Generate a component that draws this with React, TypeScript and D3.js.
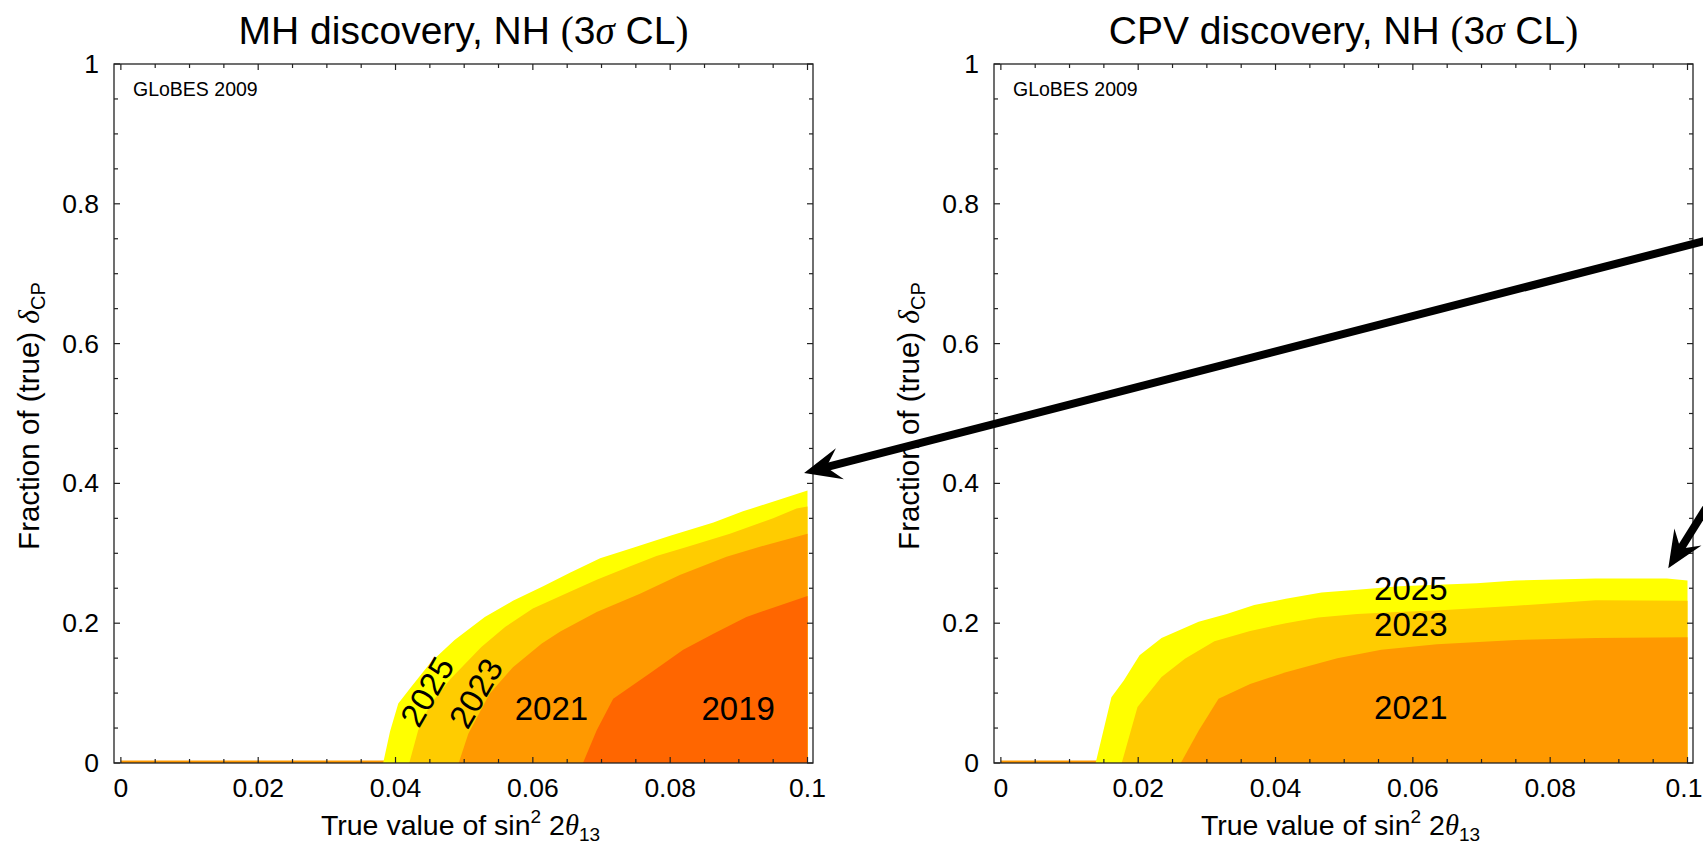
import React from "react";
import * as d3 from "d3";

// tick values and labels (same for both panels)
const xTickValues = [0, 0.02, 0.04, 0.06, 0.08, 0.1];
const xTickLabels = ["0", "0.02", "0.04", "0.06", "0.08", "0.1"];
const yTickValues = [0, 0.2, 0.4, 0.6, 0.8, 1];
const yTickLabels = ["0", "0.2", "0.4", "0.6", "0.8", "1"];
const xMinor = d3.range(0, 0.1001, 0.005);
const yMinor = d3.range(0, 1.0001, 0.05);

const years = ["2025", "2023", "2021", "2019"];
const colors = ["#FFFF00", "#FFCC00", "#FF9900", "#FF6600"];

// contour boundaries [sin^2 2theta13, fraction of deltaCP]
// MH discovery
const mh2025 = [[0.0382, 0], [0.0392, 0.045], [0.0404, 0.085], [0.0423, 0.109], [0.0452, 0.145], [0.0486, 0.176], [0.053, 0.209], [0.0571, 0.232], [0.0615, 0.253], [0.0654, 0.272], [0.0698, 0.293], [0.0746, 0.308], [0.08, 0.325], [0.0863, 0.344], [0.0906, 0.36], [0.1, 0.39]];
const mh2023 = [[0.042, 0], [0.0433, 0.047], [0.045, 0.083], [0.048, 0.12], [0.0525, 0.166], [0.056, 0.195], [0.06, 0.221], [0.0654, 0.245], [0.0693, 0.262], [0.0741, 0.281], [0.078, 0.296], [0.0824, 0.309], [0.0887, 0.328], [0.095, 0.35], [0.0984, 0.364], [0.1, 0.367]];
const mh2021 = [[0.0492, 0], [0.0506, 0.042], [0.0537, 0.099], [0.0571, 0.137], [0.0613, 0.171], [0.064, 0.188], [0.0693, 0.216], [0.0756, 0.242], [0.0814, 0.269], [0.0882, 0.295], [0.094, 0.312], [0.1, 0.328]];
const mh2019 = [[0.0673, 0], [0.0693, 0.047], [0.0717, 0.092], [0.077, 0.128], [0.0819, 0.162], [0.0863, 0.185], [0.0911, 0.209], [0.1, 0.239]];

// CPV discovery
const cpv2025 = [[0.0138, 0], [0.0161, 0.094], [0.0179, 0.118], [0.0202, 0.154], [0.0234, 0.179], [0.0288, 0.202], [0.0329, 0.213], [0.0369, 0.226], [0.0415, 0.235], [0.0467, 0.244], [0.0519, 0.248], [0.058, 0.253], [0.0693, 0.257], [0.075, 0.261], [0.0866, 0.264], [0.097, 0.264], [0.1, 0.261]];
const cpv2023 = [[0.0176, 0], [0.0199, 0.08], [0.0234, 0.123], [0.0268, 0.149], [0.0311, 0.174], [0.0363, 0.189], [0.0415, 0.2], [0.0462, 0.208], [0.0519, 0.213], [0.0577, 0.216], [0.0635, 0.218], [0.075, 0.225], [0.0866, 0.233], [0.1, 0.232]];
const cpv2021 = [[0.0262, 0], [0.0288, 0.046], [0.0317, 0.092], [0.0363, 0.113], [0.0415, 0.13], [0.049, 0.15], [0.0554, 0.162], [0.0635, 0.17], [0.075, 0.176], [0.0866, 0.179], [0.1, 0.18]];

// year label spots [x, y, rotation]
const mhLabels = [[0.0446, 0.102, -60], [0.0517, 0.1, -60], [0.0627, 0.078, 0], [0.0899, 0.078, 0]];
const cpvLabels = [[0.0597, 0.249, 0], [0.0597, 0.198, 0], [0.0597, 0.079, 0]];

const FONT = "'Liberation Sans', Arial, Helvetica, sans-serif";
const SERIF = "'Liberation Serif', 'Times New Roman', serif";

const W = 1703;
const H = 845;
const panelW = 699;
const top = 64;
const bottom = 763;

function arrow(tip, from) {
    const dx = from[0] - tip[0];
    const dy = from[1] - tip[1];
    const len = Math.hypot(dx, dy);
    const ux = dx / len, uy = dy / len;
    const px = -uy, py = ux;
    const L = 37, Wd = 16, N = 23;
    const head = [
        [tip[0], tip[1]],
        [tip[0] + ux * L + px * Wd, tip[1] + uy * L + py * Wd],
        [tip[0] + ux * N, tip[1] + uy * N],
        [tip[0] + ux * L - px * Wd, tip[1] + uy * L - py * Wd],
    ];
    return (
        <g>
            <line x1={from[0]} y1={from[1]} x2={tip[0] + ux * (N - 2)} y2={tip[1] + uy * (N - 2)} stroke="#000" strokeWidth={8} />
            <polygon points={head.map((p) => p.join(",")).join(" ")} fill="#000" />
        </g>
    );
}

function makeScales(left) {
    const x = d3.scaleLinear().domain([-0.001, 0.1008]).range([left, left + panelW]);
    const y = d3.scaleLinear().domain([0, 1]).range([bottom, top]);
    return { x, y };
}

function Panel({ left, title, series, labels }) {
    const { x, y } = makeScales(left);
    const area = d3
        .line()
        .x((d) => x(d[0]))
        .y((d) => y(d[1]));
    const right = left + panelW;
    const cx = left + panelW / 2;
    return (
        <g>
            <text x={cx} y={44} textAnchor="middle" fontFamily={FONT} fontSize={39} fill="#000">
                {title}
                <tspan fontFamily={SERIF}>(</tspan>3<tspan fontFamily={SERIF} fontStyle="italic">σ</tspan> CL<tspan fontFamily={SERIF}>)</tspan>
            </text>
            {/* thin contour along the axis */}
            <line x1={x(0)} x2={x(0.1)} y1={y(0) - 1.3} y2={y(0) - 1.3} stroke="#FF9900" strokeWidth={2.4} />
            {series.map((s, i) => {
                const pts = [...s, [0.1, 0], [s[0][0], 0]];
                return <path key={i} d={area(pts) + "Z"} fill={colors[i]} stroke="none" />;
            })}
            {labels.map((l, i) => (
                <text
                    key={i}
                    transform={`translate(${x(l[0])},${y(l[1])}) rotate(${l[2]})`}
                    textAnchor="middle"
                    dominantBaseline="central"
                    fontFamily={FONT}
                    fontSize={33}
                    fill="#000"
                >
                    {years[i]}
                </text>
            ))}
            <text x={left + 19} y={96} fontFamily={FONT} fontSize={19.5} fill="#000">
                GLoBES 2009
            </text>
            {/* frame */}
            <rect x={left} y={top} width={panelW} height={bottom - top} fill="none" stroke="#222" strokeWidth={1.3} />
            {xMinor.map((v, i) => {
                const major = i % 4 === 0;
                const len = major ? 6 : 4;
                return (
                    <g key={"xm" + i} stroke="#222" strokeWidth={1.2}>
                        <line x1={x(v)} x2={x(v)} y1={bottom} y2={bottom - len} />
                        <line x1={x(v)} x2={x(v)} y1={top} y2={top + len} />
                    </g>
                );
            })}
            {yMinor.map((v, i) => {
                const major = i % 4 === 0;
                const len = major ? 6 : 4;
                return (
                    <g key={"ym" + i} stroke="#222" strokeWidth={1.2}>
                        <line x1={left} x2={left + len} y1={y(v)} y2={y(v)} />
                        <line x1={right} x2={right - len} y1={y(v)} y2={y(v)} />
                    </g>
                );
            })}
            {xTickValues.map((v, i) => (
                <text key={"xt" + i} x={Math.min(x(v), W - 19)} y={797} textAnchor="middle" fontFamily={FONT} fontSize={26.5} fill="#000">
                    {xTickLabels[i]}
                </text>
            ))}
            {yTickValues.map((v, i) => (
                <text key={"yt" + i} x={left - 15} y={y(v)} textAnchor="end" dominantBaseline="central" fontFamily={FONT} fontSize={26.5} fill="#000">
                    {yTickLabels[i]}
                </text>
            ))}
            <text x={cx - 3} y={835} textAnchor="middle" fontFamily={FONT} fontSize={28.5} fill="#000">
                True value of sin
                <tspan fontSize={19} dy={-12}>2</tspan>
                <tspan dy={12}> 2</tspan>
                <tspan fontFamily={SERIF} fontStyle="italic">θ</tspan>
                <tspan fontSize={19} dy={6}>13</tspan>
            </text>
            <text transform={`translate(${left - 75},416) rotate(-90)`} textAnchor="middle" fontFamily={FONT} fontSize={29.5} fill="#000">
                Fraction of (true) <tspan fontFamily={SERIF} fontStyle="italic">δ</tspan>
                <tspan fontSize={20} dy={6}>CP</tspan>
            </text>
        </g>
    );
}

export default function App() {
    const leftX = 114;
    const rightX = 994;
    const ls = makeScales(leftX);
    const rs = makeScales(rightX);
    // arrow tips and tails given in each panel's data space
    const a1Tip = [ls.x(0.0995), ls.y(0.415)];
    const a1From = [ls.x(0.2329), ls.y(0.7525)];
    const a2Tip = [rs.x(0.0972), rs.y(0.2785)];
    const a2From = [rs.x(0.1047), rs.y(0.396)];
    return (
        <svg width={W} height={H} style={{ position: "absolute", left: 0, top: 0, background: "#fff" }}>
            <rect width={W} height={H} fill="#fff" />
            <Panel left={leftX} title="MH discovery, NH " series={[mh2025, mh2023, mh2021, mh2019]} labels={mhLabels} />
            <Panel left={rightX} title="CPV discovery, NH " series={[cpv2025, cpv2023, cpv2021]} labels={cpvLabels} />
            {arrow(a1Tip, a1From)}
            {arrow(a2Tip, a2From)}
        </svg>
    );
}
